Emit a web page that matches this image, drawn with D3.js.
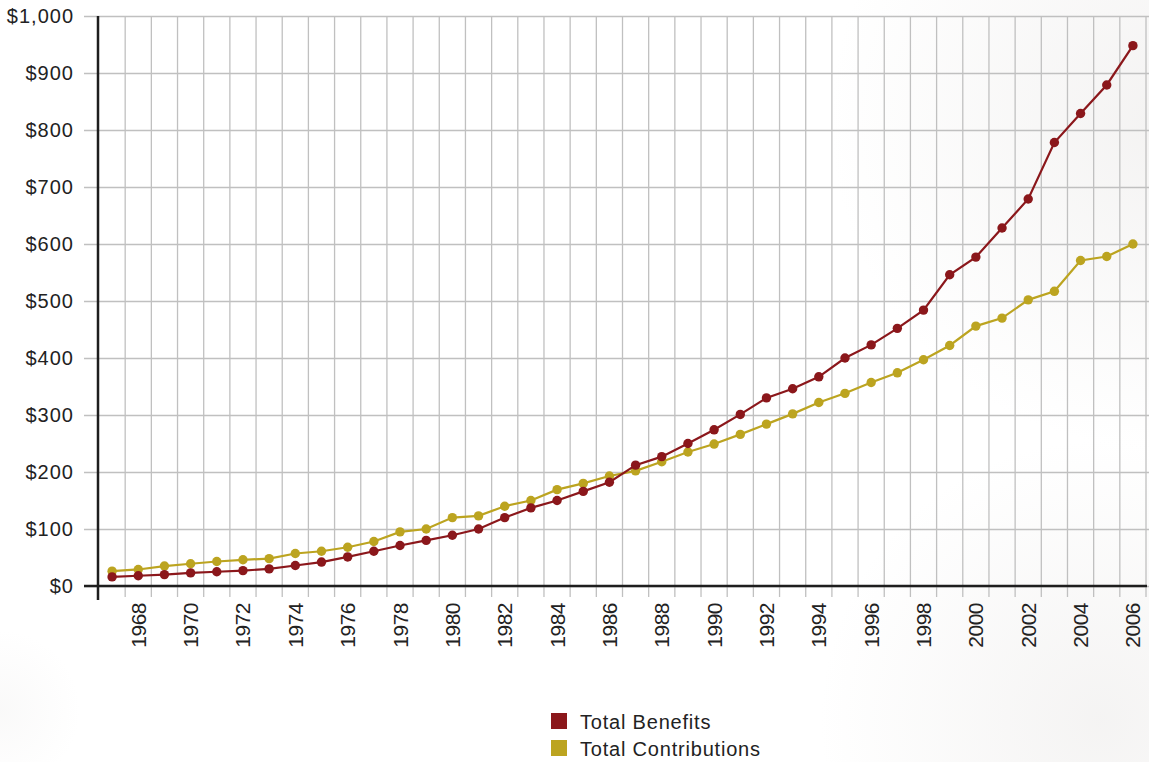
<!DOCTYPE html>
<html>
<head>
<meta charset="utf-8">
<script src="https://cdn.jsdelivr.net/npm/d3@7"></script>
<style>
  html, body { margin: 0; padding: 0; background: #fff; }
  svg { display: block; }
  text { font-family: "Liberation Sans", Arial, Helvetica, sans-serif; fill: #222; }
</style>
</head>
<body>
<svg id="chart" width="1149" height="762"></svg>
<script>
// Years on the horizontal axis
const years = d3.range(1967, 2007);
// Total Benefits (dollars, by year)
const benefits = [16, 18, 20, 23, 25, 27, 30, 36, 42, 51,
                  61, 71, 80, 89, 100, 120, 137, 150, 166, 182,
                  212, 227, 250, 274, 301, 330, 346, 367, 400, 423,
                  452, 484, 546, 577, 628, 679, 778, 829, 879, 948];
// Total Contributions (dollars, by year)
const contributions = [26, 29, 35, 39, 43, 46, 48, 57, 61, 68,
                       78, 95, 100, 120, 123, 140, 150, 169, 180, 193,
                       202, 218, 235, 249, 266, 284, 302, 322, 338, 357,
                       374, 397, 422, 456, 470, 502, 517, 571, 578, 600];
const yTicks = [0, 100, 200, 300, 400, 500, 600, 700, 800, 900, 1000];
const xTickYears = years.filter(y => y % 2 === 0);
const seriesNames = ["Total Benefits", "Total Contributions"];
const seriesColors = ["#8b171b", "#bca420"];

const svg = d3.select("#chart");
const W = 1149, H = 762;

// soft background shading
const defs = svg.append("defs");
function haze(id, cx, cy, r, op) {
  const g = defs.append("radialGradient").attr("id", id)
    .attr("gradientUnits", "userSpaceOnUse")
    .attr("cx", cx).attr("cy", cy).attr("r", r);
  g.append("stop").attr("offset", "0%").attr("stop-color", "#dcd9d7").attr("stop-opacity", op);
  g.append("stop").attr("offset", "55%").attr("stop-color", "#dcd9d7").attr("stop-opacity", op * 0.45);
  g.append("stop").attr("offset", "100%").attr("stop-color", "#dcd9d7").attr("stop-opacity", 0);
  svg.append("rect").attr("width", W).attr("height", H).attr("fill", `url(#${id})`);
}
svg.append("rect").attr("width", W).attr("height", H).attr("fill", "#ffffff");
haze("h1", 1160, 120, 330, 0.32);
haze("h2", 1100, 720, 280, 0.3);
haze("h3", 0, 710, 80, 0.15);

const plotLeft = 99, plotRight = 1146, plotTop = 16, plotBottom = 586;

const x = d3.scaleBand().domain(years).range([plotLeft, plotRight]).paddingInner(0).paddingOuter(0);
const y = d3.scaleLinear().domain([0, 1000]).range([plotBottom, plotTop]);

// horizontal gridlines with tick stubs
const yAxis = d3.axisLeft(y).tickValues(yTicks).tickSize(-(W - 84)).tickFormat("");
svg.append("g").attr("transform", `translate(84,0)`).call(yAxis)
  .call(g => g.select(".domain").remove())
  .call(g => g.selectAll(".tick line").attr("stroke", "#c0c0c0").attr("stroke-width", 1.3)
    .attr("x1", 0).attr("x2", W - 84));

// vertical gridlines at band boundaries
const bounds = years.slice(1).map(d => x(d)).concat([plotRight]);
svg.append("g").selectAll("line").data(bounds).join("line")
  .attr("x1", d => d).attr("x2", d => d)
  .attr("y1", plotTop).attr("y2", 597)
  .attr("stroke", "#c0c0c0").attr("stroke-width", 1.3);

// y tick labels
svg.append("g").selectAll("text").data(yTicks).join("text")
  .attr("x", 74).attr("y", d => y(d)).attr("dy", "0.35em")
  .attr("text-anchor", "end").attr("font-size", 20).attr("letter-spacing", 1)
  .text(d => d3.format("$,")(d));

// x tick labels, rotated
svg.append("g").selectAll("text").data(xTickYears).join("text")
  .attr("transform", d => `translate(${x(d) + x.bandwidth() / 2 + 7.5},603) rotate(-90)`)
  .attr("text-anchor", "end").attr("font-size", 21).attr("letter-spacing", -0.5)
  .text(d => d);

// axes lines
svg.append("line").attr("x1", 84).attr("x2", 1147).attr("y1", plotBottom).attr("y2", plotBottom)
  .attr("stroke", "#1e1e1e").attr("stroke-width", 2.5);
svg.append("line").attr("x1", 98).attr("x2", 98).attr("y1", plotTop).attr("y2", 600)
  .attr("stroke", "#1e1e1e").attr("stroke-width", 2.5);

// series
const cx = d => x(d) + x.bandwidth() / 2;
[contributions, benefits].forEach((vals, k) => {
  const color = k === 0 ? seriesColors[1] : seriesColors[0];
  const pts = years.map((yr, i) => [cx(yr), y(vals[i])]);
  svg.append("path").attr("d", d3.line()(pts))
    .attr("fill", "none").attr("stroke", color).attr("stroke-width", 2.2);
  svg.append("g").selectAll("circle").data(pts).join("circle")
    .attr("cx", d => d[0]).attr("cy", d => d[1]).attr("r", 4.7).attr("fill", color);
});

// legend
const lg = svg.append("g").attr("transform", "translate(551,713)");
seriesNames.forEach((name, i) => {
  lg.append("rect").attr("x", 0).attr("y", i * 27).attr("width", 16).attr("height", 16)
    .attr("fill", seriesColors[i]);
  lg.append("text").attr("x", 29).attr("y", i * 27 + 16)
    .attr("font-size", 20).attr("letter-spacing", 0.8).text(name);
});
</script>
</body>
</html>
